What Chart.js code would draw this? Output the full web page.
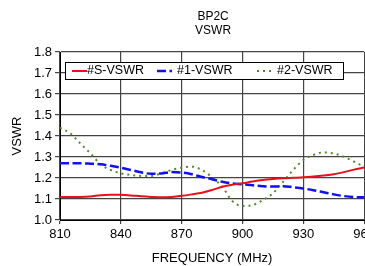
<!DOCTYPE html>
<html>
<head>
<meta charset="utf-8">
<script src="https://cdn.jsdelivr.net/npm/chart.js@4"></script>
<style>
html, body { margin: 0; padding: 0; background: #fff; overflow: hidden; }
#wrap { width: 378px; height: 266px; }
</style>
</head>
<body>
<div id="wrap"><canvas id="vswrChart"></canvas></div>
<script>
const freqs = [810, 815, 820, 825, 830, 835, 840, 845, 850, 855, 860, 865, 870, 875, 880, 885,
    890, 895, 900, 905, 910, 915, 920, 925, 930, 935, 940, 945, 950, 955, 960];

const sVswr = [1.11, 1.11, 1.11, 1.112, 1.118, 1.12, 1.12, 1.117, 1.113, 1.11, 1.108, 1.11, 1.115,
    1.122, 1.13, 1.143, 1.158, 1.168, 1.175, 1.183, 1.19, 1.195, 1.199, 1.201, 1.203, 1.207,
    1.212, 1.218, 1.228, 1.24, 1.25];

const oneVswr = [1.27, 1.27, 1.27, 1.268, 1.265, 1.258, 1.249, 1.238, 1.227, 1.22, 1.222, 1.228,
    1.226, 1.218, 1.205, 1.194, 1.182, 1.174, 1.17, 1.165, 1.161, 1.159, 1.161, 1.156, 1.15,
    1.142, 1.132, 1.122, 1.114, 1.109, 1.108];

const twoVswr = [1.44, 1.413, 1.365, 1.317, 1.265, 1.238, 1.222, 1.214, 1.21, 1.21, 1.222, 1.238,
    1.25, 1.254, 1.238, 1.203, 1.159, 1.09, 1.067, 1.071, 1.095, 1.127, 1.182, 1.238, 1.286,
    1.31, 1.322, 1.317, 1.301, 1.278, 1.254];

const seriesNames = ["#S-VSWR", "#1-VSWR", "#2-VSWR"];
const titleLines = ["BP2C", "VSWR"];
const xTicks = [810, 840, 870, 900, 930, 960];

const FONT = "'Liberation Sans', Arial, sans-serif";

function points(values) {
    return values.map((v, i) => ({ x: freqs[i], y: v }));
}

// title centred over the plot, legend box inside the plot
const decorations = {
    id: "decorations",
    afterDraw(chart) {
        const ctx = chart.ctx;
        const area = chart.chartArea;
        ctx.save();
        ctx.fillStyle = "#000";
        ctx.font = "12px " + FONT;
        ctx.textAlign = "center";
        ctx.textBaseline = "middle";
        const cx = (area.left + area.right) / 2 + 1;
        ctx.fillText(titleLines[0], cx, 17);
        ctx.fillText(titleLines[1], cx, 31);

        const left = area.left + 5, top = area.top + 10, right = 343, bottom = 79;
        ctx.fillStyle = "#fff";
        ctx.fillRect(left, top, right - left, bottom - top);
        ctx.strokeStyle = "#000";
        ctx.lineWidth = 1;
        ctx.strokeRect(left + 0.5, top + 0.5, right - left, bottom - top);
        const cy = (top + bottom) / 2 + 0.5;
        const starts = [72, 157, 257];
        ctx.font = "12.5px " + FONT;
        ctx.textAlign = "left";
        chart.data.datasets.forEach((ds, i) => {
            ctx.strokeStyle = ds.borderColor;
            ctx.lineWidth = ds.borderWidth;
            ctx.setLineDash(ds.borderDash || []);
            ctx.beginPath();
            ctx.moveTo(starts[i], cy);
            ctx.lineTo(starts[i] + 15, cy);
            ctx.stroke();
            ctx.setLineDash([]);
            ctx.fillStyle = "#000";
            ctx.fillText(ds.label, starts[i] + (i === 0 ? 15 : 20), cy);
        });
        ctx.restore();
    }
};

new Chart(document.getElementById("vswrChart"), {
    type: "line",
    data: {
        datasets: [{
            label: seriesNames[0],
            data: points(sVswr),
            borderColor: "#e8101a",
            borderWidth: 2
        }, {
            label: seriesNames[1],
            data: points(oneVswr),
            borderColor: "#1010f0",
            borderWidth: 2.5,
            borderDash: [9, 3.5]
        }, {
            label: seriesNames[2],
            data: points(twoVswr),
            borderColor: "#4f8a2a",
            borderWidth: 2,
            borderDash: [2, 4]
        }]
    },
    options: {
        responsive: true,
        maintainAspectRatio: false,
        animation: false,
        layout: { padding: { left: 0, right: 0, top: 52, bottom: 0 } },
        elements: {
            point: { radius: 0 },
            line: { tension: 0.4, cubicInterpolationMode: "monotone", fill: false }
        },
        plugins: {
            legend: { display: false },
            tooltip: { enabled: false },
            title: { display: false }
        },
        scales: {
            x: {
                type: "linear",
                min: 810,
                max: 960,
                afterBuildTicks(scale) {
                    scale.ticks = xTicks.map(v => ({ value: v }));
                },
                afterFit(scale) { scale.height = 46; },
                ticks: {
                    color: "#000",
                    padding: 3,
                    maxRotation: 0,
                    font: { family: FONT, size: 13 }
                },
                grid: { color: "#444", lineWidth: 1.2, tickLength: 4, drawTicks: true },
                border: { color: "#000", width: 1 },
                title: {
                    display: true,
                    text: "FREQUENCY (MHz)",
                    color: "#000",
                    padding: { top: 2, bottom: 0 },
                    font: { family: FONT, size: 13 }
                }
            },
            y: {
                min: 1.0,
                max: 1.8,
                afterFit(scale) { scale.width = 60; },
                ticks: {
                    stepSize: 0.1,
                    color: "#000",
                    padding: 3,
                    callback: v => v.toFixed(1),
                    font: { family: FONT, size: 13 }
                },
                grid: { color: "#444", lineWidth: 1.2, tickLength: 5 },
                border: { color: "#000", width: 1 },
                title: {
                    display: true,
                    text: "VSWR",
                    color: "#000",
                    padding: { top: 10, bottom: 4 },
                    font: { family: FONT, size: 13 }
                }
            }
        }
    },
    plugins: [decorations]
});
</script>
</body>
</html>
